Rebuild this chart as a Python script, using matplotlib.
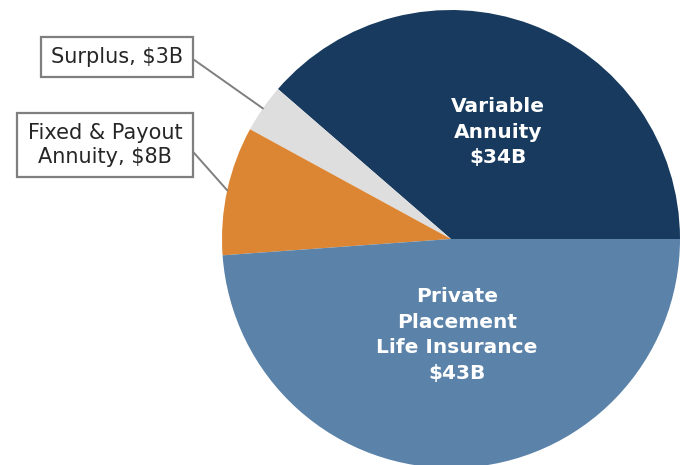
import matplotlib
matplotlib.use('Agg')
import matplotlib.pyplot as plt
import numpy as np

# Assets by segment, $B
segments = ['Variable Annuity', 'Surplus', 'Fixed & Payout Annuity', 'Private Placement Life Insurance']
values = [34, 3, 8, 43]
colors = ['#173a5e', '#dedede', '#dc8634', '#5b82a9']

inside_labels = {0: 'Variable\nAnnuity\n$34B', 3: 'Private\nPlacement\nLife Insurance\n$43B'}
outside_labels = {1: 'Surplus, $3B', 2: 'Fixed & Payout\nAnnuity, $8B'}

plt.rcParams['font.family'] = ['DejaVu Sans']

fig = plt.figure(figsize=(6.88, 4.65), dpi=100)
ax = fig.add_axes([0, 0, 1, 1])

cx, cy, r = 451, 226, 229
wedges, _ = ax.pie(values, colors=colors, startangle=0, counterclock=True,
                   center=(cx, cy), radius=r, frame=True,
                   wedgeprops=dict(linewidth=0))
ax.set_xlim(0, 688)
ax.set_ylim(0, 465)
ax.set_aspect('equal')
ax.axis('off')

# white labels inside the two big slices
ax.text(498, 465 - 132, inside_labels[0], color='white', fontsize=14.5, fontweight='bold',
        ha='center', va='center', linespacing=1.45)
ax.text(457, 465 - 335, inside_labels[3], color='white', fontsize=14.5, fontweight='bold',
        ha='center', va='center', linespacing=1.45)

# boxed labels with leader lines for the small slices
box = dict(boxstyle='square,pad=0.5', fc='white', ec='#7f7f7f', lw=1.6)
line = '#7f7f7f'

w = wedges[1]
ang = np.deg2rad((w.theta1 + w.theta2) / 2)
ax.annotate(outside_labels[1], xy=(cx + r * np.cos(ang), cy + r * np.sin(ang)),
            xytext=(117, 465 - 57), fontsize=15, color='#262626', ha='center', va='center',
            bbox=box,
            arrowprops=dict(arrowstyle='-', color=line, lw=1.4, shrinkA=0, shrinkB=0,
                            relpos=(1, 0.5),
                            connectionstyle='arc,angleA=0,armA=7,angleB=0,armB=0,rad=0'))

w = wedges[2]
ang = np.deg2rad((w.theta1 + w.theta2) / 2)
ax.annotate(outside_labels[2], xy=(cx + r * np.cos(ang), cy + r * np.sin(ang)),
            xytext=(105, 465 - 145), fontsize=15, color='#262626', ha='center', va='center',
            linespacing=1.25, bbox=box,
            arrowprops=dict(arrowstyle='-', color=line, lw=1.4, shrinkA=0, shrinkB=0,
                            relpos=(1, 0.62)))

fig.savefig('out.png', dpi=100, facecolor='white')
